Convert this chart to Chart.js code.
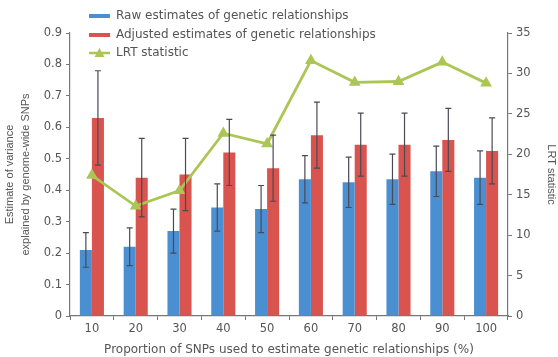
<!DOCTYPE html>
<html>
<head>
<meta charset="utf-8">
<script src="https://cdn.jsdelivr.net/npm/chart.js@4/dist/chart.umd.min.js"></script>
<style>
  html, body { margin: 0; padding: 0; background: #fff; }
  #wrap { width: 558px; height: 357px; }
</style>
</head>
<body>
<div id="wrap"><canvas id="chart" width="558" height="357"></canvas></div>
<script>
// ---- data ----
const categories = ['10', '20', '30', '40', '50', '60', '70', '80', '90', '100'];
const rawEstimates = [0.21, 0.22, 0.27, 0.345, 0.34, 0.435, 0.425, 0.435, 0.46, 0.44];
const rawErrors = [0.055, 0.06, 0.07, 0.075, 0.075, 0.075, 0.08, 0.08, 0.08, 0.085];
const adjustedEstimates = [0.63, 0.44, 0.45, 0.52, 0.47, 0.575, 0.545, 0.545, 0.56, 0.525];
const adjustedErrors = [0.15, 0.125, 0.115, 0.105, 0.105, 0.105, 0.1, 0.1, 0.1, 0.105];
const lrtStatistic = [17.4, 13.6, 15.5, 22.6, 21.3, 31.6, 28.9, 29.0, 31.4, 28.8];
const leftTicks = [0, 0.1, 0.2, 0.3, 0.4, 0.5, 0.6, 0.7, 0.8, 0.9];
const rightTicks = [0, 5, 10, 15, 20, 25, 30, 35];

const BLUE = '#4b8fd3';
const RED = '#d9534f';
const GREEN = '#abc655';
const TEXT = '#555';
const AXIS = '#777';
const FONT = "'DejaVu Sans', Verdana, sans-serif";
const NARROW = "'Liberation Sans', Arial, sans-serif";

// error bars drawn on top of the bars, through the y scale
const errorBars = {
    id: 'errorBars',
    afterDatasetsDraw(chart) {
        const ctx = chart.ctx;
        const y = chart.scales.y;
        chart.data.datasets.forEach((ds, di) => {
            if (!ds.errors) return;
            const meta = chart.getDatasetMeta(di);
            meta.data.forEach((bar, i) => {
                const v = ds.data[i], e = ds.errors[i];
                const top = y.getPixelForValue(v + e);
                const bot = y.getPixelForValue(v - e);
                ctx.save();
                ctx.strokeStyle = '#4a4a55';
                ctx.lineWidth = 1.2;
                ctx.beginPath();
                ctx.moveTo(bar.x, top); ctx.lineTo(bar.x, bot);
                ctx.moveTo(bar.x - 3, top); ctx.lineTo(bar.x + 3, top);
                ctx.moveTo(bar.x - 3, bot); ctx.lineTo(bar.x + 3, bot);
                ctx.stroke();
                ctx.restore();
            });
        });
    }
};

// legend in the top-left corner, partly above the plot
const cornerLegend = {
    id: 'cornerLegend',
    afterDraw(chart) {
        const ctx = chart.ctx;
        ctx.save();
        ctx.font = '12px ' + FONT;
        ctx.textBaseline = 'middle';
        const x0 = 89, rows = [16, 35, 53];
        chart.data.datasets.forEach((ds, i) => {
            const yy = rows[i];
            ctx.fillStyle = TEXT;
            ctx.fillText(ds.label, x0 + 27, yy);
            if (ds.type === 'line') {
                ctx.strokeStyle = GREEN;
                ctx.lineWidth = 2.5;
                ctx.beginPath();
                ctx.moveTo(x0, yy); ctx.lineTo(x0 + 21, yy);
                ctx.stroke();
                ctx.fillStyle = GREEN;
                ctx.beginPath();
                ctx.moveTo(x0 + 10.5, yy - 5);
                ctx.lineTo(x0 + 15.5, yy + 4);
                ctx.lineTo(x0 + 5.5, yy + 4);
                ctx.closePath();
                ctx.fill();
            } else {
                ctx.fillStyle = ds.backgroundColor;
                ctx.fillRect(x0, yy - 2, 21, 4);
            }
        });
        ctx.restore();
    }
};

new Chart(document.getElementById('chart'), {
    data: {
        labels: categories,
        datasets: [
            {
                type: 'bar',
                label: 'Raw estimates of genetic relationships',
                data: rawEstimates,
                errors: rawErrors,
                backgroundColor: BLUE,
                yAxisID: 'y',
                categoryPercentage: 0.55,
                barPercentage: 1.0,
                order: 2
            },
            {
                type: 'bar',
                label: 'Adjusted estimates of genetic relationships',
                data: adjustedEstimates,
                errors: adjustedErrors,
                backgroundColor: RED,
                yAxisID: 'y',
                categoryPercentage: 0.55,
                barPercentage: 1.0,
                order: 2
            },
            {
                type: 'line',
                label: 'LRT statistic',
                data: lrtStatistic,
                yAxisID: 'y2',
                borderColor: GREEN,
                backgroundColor: GREEN,
                borderWidth: 2.8,
                pointStyle: 'triangle',
                pointRadius: 4,
                tension: 0,
                order: 1
            }
        ]
    },
    options: {
        responsive: false,
        animation: false,
        layout: { padding: { top: 33, left: 0, right: 0, bottom: 0 } },
        plugins: {
            legend: { display: false },
            tooltip: { enabled: false }
        },
        scales: {
            x: {
                offset: true,
                grid: { display: true, drawOnChartArea: false, offset: true, tickLength: 4, color: AXIS },
                border: { color: AXIS, width: 1.2 },
                ticks: { color: TEXT, font: { family: FONT, size: 11.5 }, padding: 2 },
                title: {
                    display: true,
                    text: 'Proportion of SNPs used to estimate genetic relationships (%)',
                    color: TEXT,
                    font: { family: FONT, size: 12 },
                    padding: { top: 0, bottom: 0 }
                },
                afterFit: s => { s.height = 41; }
            },
            y: {
                position: 'left',
                min: 0,
                max: 0.9,
                afterBuildTicks: s => { s.ticks = leftTicks.map(v => ({ value: v })); },
                grid: { display: true, drawOnChartArea: false, tickLength: 4, color: AXIS },
                border: { color: AXIS, width: 1.2 },
                ticks: {
                    color: TEXT,
                    font: { family: FONT, size: 11.5 },
                    padding: 4,
                    callback: v => v === 0 ? '0' : v.toFixed(1)
                },
                title: {
                    display: true,
                    text: ['Estimate of variance', 'explained by genome-wide SNPs'],
                    color: TEXT,
                    font: { family: NARROW, size: 11, lineHeight: 1.45 },
                    padding: { top: 2, bottom: 3 }
                },
                afterFit: s => { s.width = 70; }
            },
            y2: {
                position: 'right',
                min: 0,
                max: 35,
                afterBuildTicks: s => { s.ticks = rightTicks.map(v => ({ value: v })); },
                grid: { display: true, drawOnChartArea: false, tickLength: 4, color: AXIS },
                border: { color: AXIS, width: 1.2 },
                ticks: { color: TEXT, font: { family: FONT, size: 11.5 }, padding: 4 },
                title: {
                    display: true,
                    text: 'LRT statistic',
                    color: TEXT,
                    font: { family: NARROW, size: 11 },
                    padding: { top: 0, bottom: 4 }
                },
                afterFit: s => { s.width = 50; }
            }
        }
    },
    plugins: [errorBars, cornerLegend]
});
</script>
</body>
</html>
